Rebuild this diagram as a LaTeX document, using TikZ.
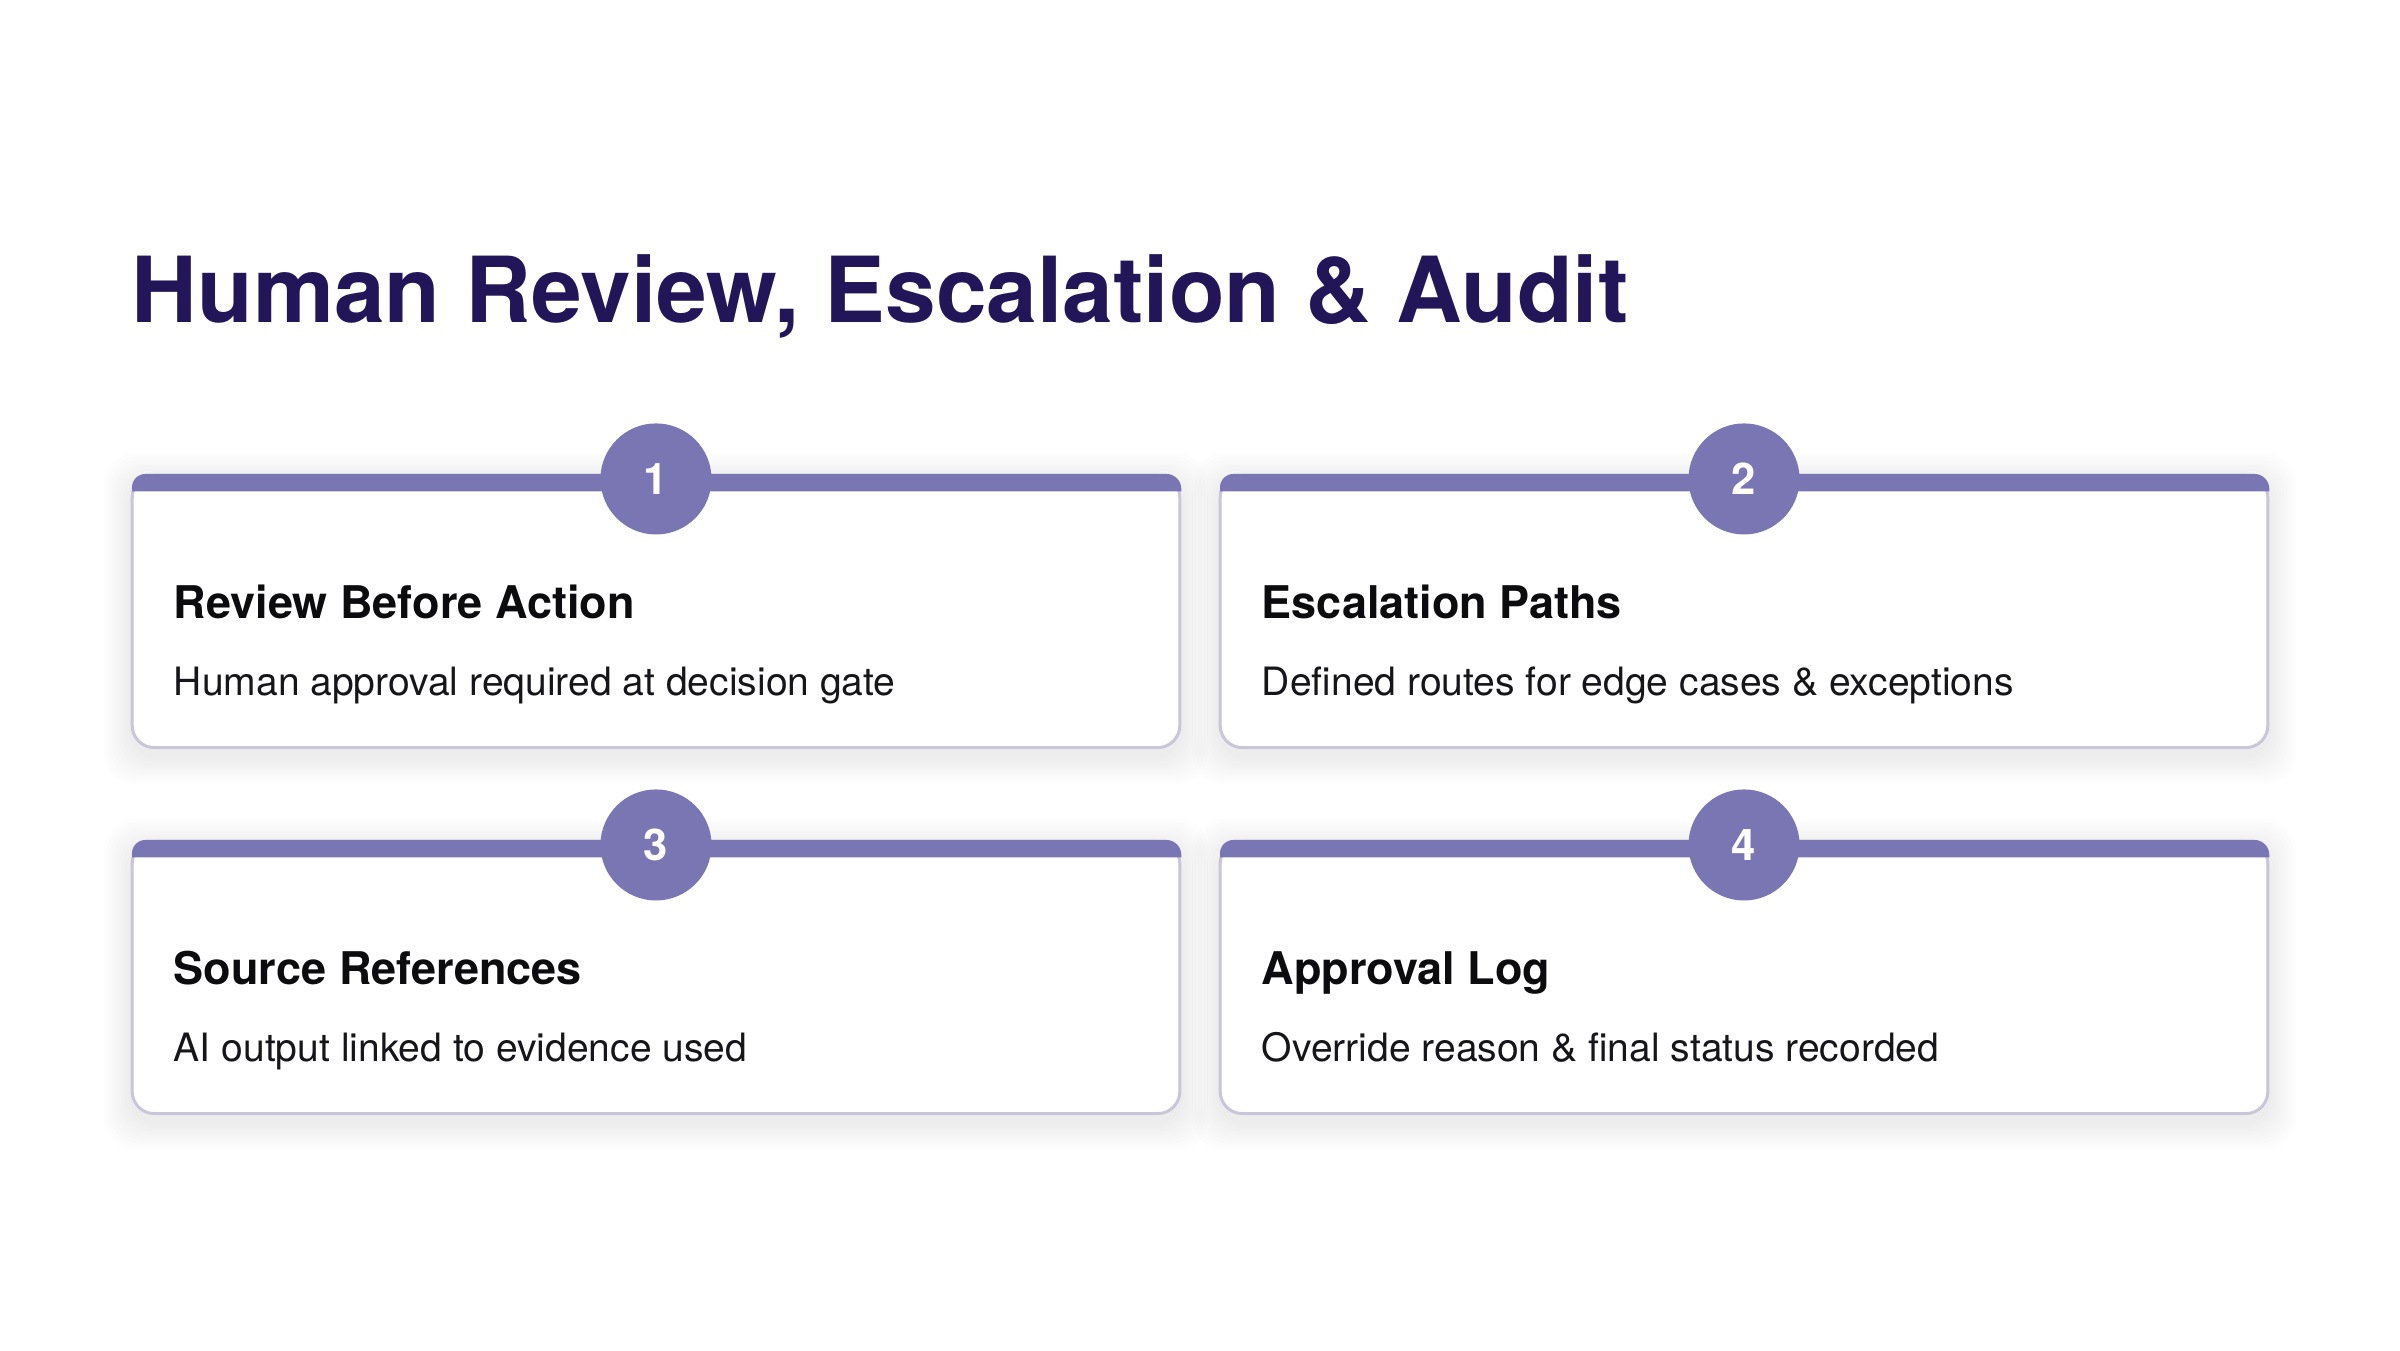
\documentclass[tikz,border=0pt]{standalone}
\usepackage{fontspec}
\setmainfont{TeX Gyre Heros}
\definecolor{barc}{RGB}{122,118,180}
\definecolor{titlec}{RGB}{34,22,89}
\definecolor{edgec}{RGB}{200,198,216}
\definecolor{headc}{RGB}{12,12,14}
\definecolor{bodyc}{RGB}{22,22,26}
\tikzset{
  card/.style={draw=edgec, line width=0.03cm, fill=white, rounded corners=0.22cm,
    minimum width=10.47cm, minimum height=2.72cm, outer sep=0pt, inner sep=0pt},
  numc/.style={circle, fill=barc, minimum size=1.11cm, inner sep=0pt, text=white,
    font=\fontsize{12.4pt}{13pt}\selectfont\bfseries},
  headt/.style={anchor=base west, inner sep=0pt, text=headc,
    font=\fontsize{12.8pt}{14pt}\selectfont\bfseries},
  bodyt/.style={anchor=base west, inner sep=0pt, text=bodyc,
    font=\fontsize{11.1pt}{13pt}\selectfont},
  titlet/.style={anchor=base west, inner sep=0pt, text=titlec,
    font=\fontsize{25.9pt}{30pt}\selectfont\bfseries}
}
\newcommand{\cardshadow}[2]{% centre x, centre y
  \foreach \s in {3,6,...,27} {
    \fill[black, opacity=0.007, rounded corners=0.3cm]
      ({#1-525-\s},{#2-137+6-\s}) rectangle ({#1+525+\s},{#2+137+8+\s});
  }}
\newcommand{\cardbar}[1]{%
  \fill[barc] ([yshift=-0.16cm]#1.north west) [rounded corners=0.15cm] -- ([xshift=-0.015cm,yshift=0.015cm]#1.north west) -- ([xshift=0.015cm,yshift=0.015cm]#1.north east) [sharp corners] -- ([xshift=0.015cm,yshift=-0.16cm]#1.north east) -- ([xshift=-0.015cm,yshift=-0.16cm]#1.north west) -- cycle;}
\begin{document}
\begin{tikzpicture}[x=0.01cm,y=-0.01cm]
\useasboundingbox[fill=white] (0,0) rectangle (2400,1350);
\node[titlet] (title) at (131,322) {Human Review, Escalation \& Audit};

\cardshadow{656}{611.5}\cardshadow{1744}{611.5}
\cardshadow{656}{977.5}\cardshadow{1744}{977.5}

\node[card] (c1) at (656,611.5) {};
\node[card] (c2) at (1744,611.5) {};
\node[card] (c3) at (656,977.5) {};
\node[card] (c4) at (1744,977.5) {};
\cardbar{c1}\cardbar{c2}\cardbar{c3}\cardbar{c4}

\node[numc] (n1) at ([yshift=-0.035cm]c1.north) {1};
\node[numc] (n2) at ([yshift=-0.035cm]c2.north) {2};
\node[numc] (n3) at ([yshift=-0.035cm]c3.north) {3};
\node[numc] (n4) at ([yshift=-0.035cm]c4.north) {4};

\node[headt] (h1) at ([xshift=0.41cm,yshift=-1.43cm]c1.north west) {Review Before Action};
\node[bodyt] (b1) at ([xshift=0.41cm,yshift=-2.20cm]c1.north west) {Human approval required at decision gate};
\node[headt] (h2) at ([xshift=0.41cm,yshift=-1.43cm]c2.north west) {Escalation Paths};
\node[bodyt] (b2) at ([xshift=0.41cm,yshift=-2.20cm]c2.north west) {Defined routes for edge cases \& exceptions};
\node[headt] (h3) at ([xshift=0.41cm,yshift=-1.43cm]c3.north west) {Source References};
\node[bodyt] (b3) at ([xshift=0.41cm,yshift=-2.20cm]c3.north west) {AI output linked to evidence used};
\node[headt] (h4) at ([xshift=0.41cm,yshift=-1.43cm]c4.north west) {Approval Log};
\node[bodyt] (b4) at ([xshift=0.41cm,yshift=-2.20cm]c4.north west) {Override reason \& final status recorded};
\end{tikzpicture}
\end{document}
